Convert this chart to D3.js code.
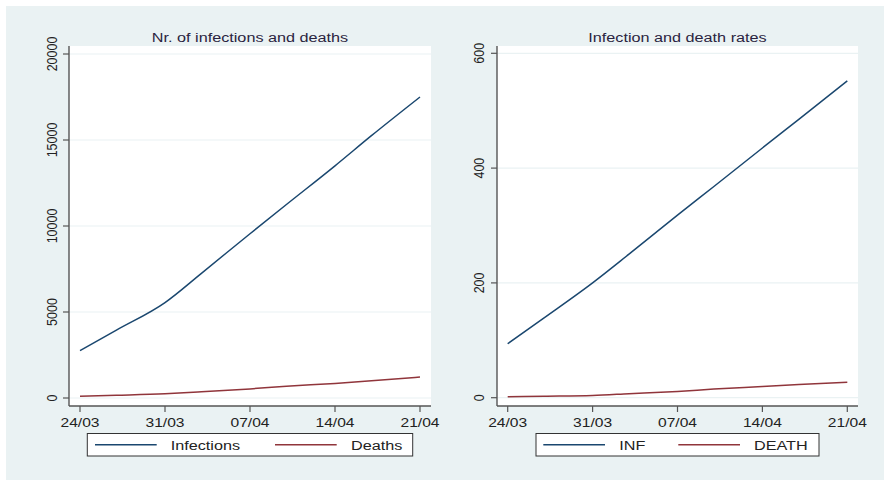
<!DOCTYPE html>
<html><head><meta charset="utf-8">
<script src="https://cdn.jsdelivr.net/npm/d3@7"></script>
<style>body{margin:0;background:#fff}text{font-family:"Liberation Sans",Arial,sans-serif}</style>
</head><body><svg id="c" width="884" height="480"></svg>
<script>
const dates = ["24/03","27/03","31/03","03/04","07/04","10/04","14/04","17/04","21/04"];
const infections = [2750,3950,5550,7250,9550,11250,13500,15250,17500];
const deaths = [100,160,250,360,530,680,850,1000,1220];
const infRate = [94,139,200,250,318,368,435,485,552];
const deathRate = [1.5,2.5,4,7,11,15,19.5,23,27];
const xTickLabels = ["24/03","31/03","07/04","14/04","21/04"];
const yTicksLeft = [0,5000,10000,15000,20000];
const yTicksRight = [0,200,400,600];
const titles = ["Nr. of infections and deaths","Infection and death rates"];
const legendLeft = ["Infections","Deaths"];
const legendRight = ["INF","DEATH"];
const colors = ["#1a476f","#90353b"];

const parse = d3.timeParse("%d/%m/%Y");
const toDate = s => parse(s + "/2020");
const SX = 1.2;
const svg = d3.select("#c");
svg.append("rect").attr("x",6).attr("y",6).attr("width",878).attr("height",474).attr("fill","#eaf2f3");

function panel(cfg){
  const g = svg.append("g");
  const x = d3.scaleTime().domain([toDate(xTickLabels[0]), toDate(xTickLabels[xTickLabels.length-1])]).range(cfg.xr);
  const y = d3.scaleLinear().domain(cfg.yd).range(cfg.yr);
  g.append("rect").attr("x",cfg.box[0]).attr("y",cfg.box[1]).attr("width",cfg.box[2]-cfg.box[0]).attr("height",cfg.box[3]-cfg.box[1]).attr("fill","#fff");
  g.selectAll(".grid").data(cfg.yt).join("line")
    .attr("x1",cfg.box[0]).attr("x2",cfg.box[2]).attr("y1",d=>y(d)).attr("y2",d=>y(d))
    .attr("stroke","#eaf2f3").attr("stroke-width",1.2);
  cfg.series.forEach((s,i)=>{
    const line = d3.line().x((d,j)=>x(toDate(dates[j]))).y(d=>y(d)).curve(d3.curveMonotoneX);
    g.append("path").attr("d",line(s)).attr("fill","none").attr("stroke",colors[i]).attr("stroke-width",1.5);
  });
  g.append("line").attr("x1",cfg.box[0]).attr("x2",cfg.box[0]).attr("y1",cfg.box[1]).attr("y2",cfg.box[3]).attr("stroke","#555").attr("stroke-width",1.4);
  g.selectAll(".yt").data(cfg.yt).join("line")
    .attr("x1",cfg.box[0]-6).attr("x2",cfg.box[0]).attr("y1",d=>y(d)).attr("y2",d=>y(d)).attr("stroke","#555").attr("stroke-width",1.2);
  g.selectAll(".yl").data(cfg.yt).join("text")
    .attr("transform",d=>`translate(${cfg.box[0]-cfg.ylOff},${y(d)}) scale(${SX},1) rotate(-90)`)
    .attr("text-anchor","middle").attr("font-size",12.5).attr("fill","#222").text(d=>d);
  g.append("line").attr("x1",cfg.box[0]).attr("x2",cfg.box[2]).attr("y1",cfg.box[3]).attr("y2",cfg.box[3]).attr("stroke","#555").attr("stroke-width",1.4);
  g.selectAll(".xt").data(xTickLabels).join("line")
    .attr("x1",d=>x(toDate(d))).attr("x2",d=>x(toDate(d))).attr("y1",cfg.box[3]).attr("y2",cfg.box[3]+6).attr("stroke","#555").attr("stroke-width",1.2);
  g.selectAll(".xl").data(xTickLabels).join("text")
    .attr("transform",d=>`translate(${x(toDate(d))},${cfg.box[3]+21}) scale(${SX},1)`)
    .attr("text-anchor","middle").attr("font-size",13).attr("fill","#222").text(d=>d);
  g.append("text").attr("transform",`translate(${(cfg.box[0]+cfg.box[2])/2},42) scale(${SX},1)`)
    .attr("text-anchor","middle").attr("font-size",13.5).attr("fill","#2a2440").text(cfg.title);
  const L = cfg.legend;
  g.append("rect").attr("x",L.box[0]).attr("y",433.5).attr("width",L.box[1]-L.box[0]).attr("height",22.5)
    .attr("fill","#fff").attr("stroke","#333").attr("stroke-width",1);
  cfg.legendLabels.forEach((lab,i)=>{
    g.append("line").attr("x1",L.lines[i][0]).attr("x2",L.lines[i][1]).attr("y1",444.7).attr("y2",444.7)
      .attr("stroke",colors[i]).attr("stroke-width",1.5);
    g.append("text").attr("transform",`translate(${L.text[i]},449.5) scale(${SX},1)`)
      .attr("font-size",13.5).attr("fill","#222").text(lab);
  });
}

panel({xr:[80,420], yd:[0,20000], yr:[398,54], box:[69,46,431,406], yt:yTicksLeft, ylOff:11.7,
  series:[infections,deaths], title:titles[0], legendLabels:legendLeft,
  legend:{box:[87.3,412.7], lines:[[95,156.7],[275,336.7]], text:[170.7,351]}});
panel({xr:[507.7,847.3], yd:[0,600], yr:[397.7,53.3], box:[497,46,858,406], yt:yTicksRight, ylOff:13.3,
  series:[infRate,deathRate], title:titles[1], legendLabels:legendRight,
  legend:{box:[536,819], lines:[[543.3,605],[678.3,740]], text:[619.3,754]}});
</script></body></html>
